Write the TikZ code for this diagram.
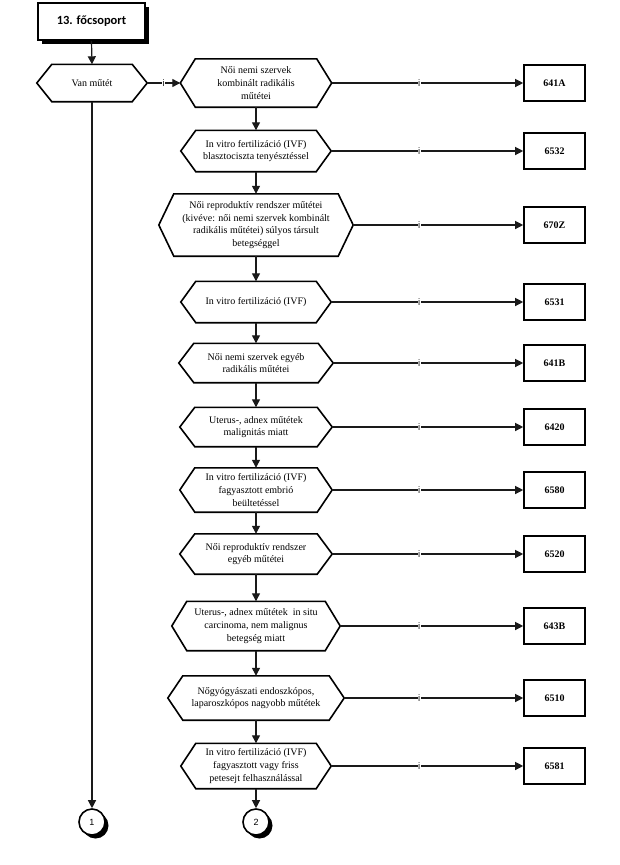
\documentclass[tikz,border=0pt]{standalone}
\usepackage{fontspec}
\setmainfont{Liberation Serif}
\newfontfamily\calibrifont{Carlito}
\newfontfamily\arialfont{Liberation Sans}
\usepackage{tikz}
\usetikzlibrary{arrows.meta,positioning,shadows,calc}
\definecolor{ink}  {HTML}{000000}
\definecolor{wire} {HTML}{1A1A1A}
\definecolor{paper}{HTML}{FFFFFF}

\tikzset{
  hexbox/.style={align=center,inner sep=0pt,
    font=\fontsize{10}{12.8}\selectfont,
    append after command={\pgfextra{\let\hexnode\tikzlastnode
      \draw[draw=ink,line width=1.6pt,line join=miter]
        (\hexnode.west) -- ([xshift=15pt]\hexnode.north west)
        -- ([xshift=-15pt]\hexnode.north east) -- (\hexnode.east)
        -- ([xshift=-15pt]\hexnode.south east)
        -- ([xshift=15pt]\hexnode.south west) -- cycle;}}},
  codebox/.style={draw=ink,line width=1.6pt,fill=paper,
    minimum width=61pt,minimum height=36pt,
    font=\fontsize{10}{12}\selectfont\bfseries},
  groupbox/.style={draw=ink,line width=1.6pt,fill=paper,
    minimum width=107pt,minimum height=37pt,
    font=\calibrifont\fontsize{12.5}{13}\selectfont\bfseries,
    drop shadow={shadow xshift=3.5pt,shadow yshift=-3.5pt,fill=ink,opacity=1}},
  pagelink/.style={circle,draw=ink,line width=1.6pt,fill=paper,
    minimum size=26pt,inner sep=0pt,
    font=\arialfont\fontsize{9}{9}\selectfont,
    drop shadow={shadow xshift=3.5pt,shadow yshift=-3.5pt,fill=ink,opacity=1}},
  flow/.style={draw=wire,line width=1.2pt,-{Triangle[length=8pt,width=8pt]}},
  yes/.style={fill=paper,inner xsep=0.6pt,inner ysep=0pt,text=wire,
    font=\arialfont\fontsize{9.5}{9.5}\selectfont},
  codeyes/.style={yes,pos=1,xshift=-104pt}
}

\begin{document}
\begin{tikzpicture}[x=1pt,y=-1pt]
  \useasboundingbox (0,0) rectangle (620,865);

  \node[groupbox] (group) at (91.5,21.5) {13. főcsoport};
  \node[hexbox,minimum width=110pt,minimum height=37pt] (vanMutet) at (92,83) {Van műtét};

  % right column
  \node[hexbox,minimum width=151pt,minimum height=48pt] (kombRad) at (256,83)
    {Női nemi szervek\\kombinált radikális\\műtétei};
  \node[hexbox,minimum width=150pt,minimum height=41pt] (ivfBlaszt) at (256,151)
    {In vitro fertilizáció (IVF)\\blasztociszta tenyésztéssel};
  \node[hexbox,minimum width=194pt,minimum height=62pt] (reprSulyos) at (256,225)
    {Női reproduktív rendszer műtétei\\(kivéve: női nemi szervek kombinált\\radikális műtétei) súlyos társult\\betegséggel};
  \node[hexbox,minimum width=150pt,minimum height=41pt] (ivf) at (256,302)
    {In vitro fertilizáció (IVF)};
  \node[hexbox,minimum width=154pt,minimum height=39pt] (egyebRad) at (256,363)
    {Női nemi szervek egyéb\\radikális műtétei};
  \node[hexbox,minimum width=152pt,minimum height=39pt] (uterusMalig) at (256,427)
    {Uterus-, adnex műtétek\\malignitás miatt};
  \node[hexbox,minimum width=152pt,minimum height=44pt] (ivfEmbrio) at (256,490)
    {In vitro fertilizáció (IVF)\\fagyasztott embrió\\beültetéssel};
  \node[hexbox,minimum width=152pt,minimum height=40pt] (reprEgyeb) at (256,554)
    {Női reproduktív rendszer\\egyéb műtétei};
  \node[hexbox,minimum width=168pt,minimum height=49pt] (uterusInSitu) at (256,626)
    {Uterus-, adnex műtétek~ in situ\\carcinoma, nem malignus\\betegség miatt};
  \node[hexbox,minimum width=176pt,minimum height=44pt] (endoszkop) at (256,698)
    {Nőgyógyászati endoszkópos,\\laparoszkópos nagyobb műtétek};
  \node[hexbox,minimum width=150pt,minimum height=45pt] (ivfPete) at (256,766)
    {In vitro fertilizáció (IVF)\\fagyasztott vagy friss\\petesejt felhasználással};

  % codes
  \node[codebox] (c641A) at (554.5,83)  {641A};
  \node[codebox] (c6532) at (554.5,151) {6532};
  \node[codebox] (c670Z) at (554.5,225) {670Z};
  \node[codebox] (c6531) at (554.5,302) {6531};
  \node[codebox] (c641B) at (554.5,363) {641B};
  \node[codebox] (c6420) at (554.5,427) {6420};
  \node[codebox] (c6580) at (554.5,490) {6580};
  \node[codebox] (c6520) at (554.5,554) {6520};
  \node[codebox] (c643B) at (554.5,626) {643B};
  \node[codebox] (c6510) at (554.5,698) {6510};
  \node[codebox] (c6581) at (554.5,766) {6581};

  \node[pagelink] (link1) at (92,822)  {1};
  \node[pagelink] (link2) at (256,822) {2};

  % connectors
  \draw[flow] (group.south) -- (vanMutet.north);
  \draw[flow] (vanMutet.south) -- (link1.north);
  \draw[flow] (vanMutet.east) -- node[yes] {i} (kombRad.west);

  \draw[flow] (kombRad.south) -- (ivfBlaszt.north);
  \draw[flow] (ivfBlaszt.south) -- (reprSulyos.north);
  \draw[flow] (reprSulyos.south) -- (ivf.north);
  \draw[flow] (ivf.south) -- (egyebRad.north);
  \draw[flow] (egyebRad.south) -- (uterusMalig.north);
  \draw[flow] (uterusMalig.south) -- (ivfEmbrio.north);
  \draw[flow] (ivfEmbrio.south) -- (reprEgyeb.north);
  \draw[flow] (reprEgyeb.south) -- (uterusInSitu.north);
  \draw[flow] (uterusInSitu.south) -- (endoszkop.north);
  \draw[flow] (endoszkop.south) -- (ivfPete.north);
  \draw[flow] (ivfPete.south) -- (link2.north);

  \draw[flow] (kombRad.east) -- node[codeyes] {i} (c641A.west);
  \draw[flow] (ivfBlaszt.east) -- node[codeyes] {i} (c6532.west);
  \draw[flow] (reprSulyos.east) -- node[codeyes] {i} (c670Z.west);
  \draw[flow] (ivf.east) -- node[codeyes] {i} (c6531.west);
  \draw[flow] (egyebRad.east) -- node[codeyes] {i} (c641B.west);
  \draw[flow] (uterusMalig.east) -- node[codeyes] {i} (c6420.west);
  \draw[flow] (ivfEmbrio.east) -- node[codeyes] {i} (c6580.west);
  \draw[flow] (reprEgyeb.east) -- node[codeyes] {i} (c6520.west);
  \draw[flow] (uterusInSitu.east) -- node[codeyes] {i} (c643B.west);
  \draw[flow] (endoszkop.east) -- node[codeyes] {i} (c6510.west);
  \draw[flow] (ivfPete.east) -- node[codeyes] {i} (c6581.west);
\end{tikzpicture}
\end{document}
